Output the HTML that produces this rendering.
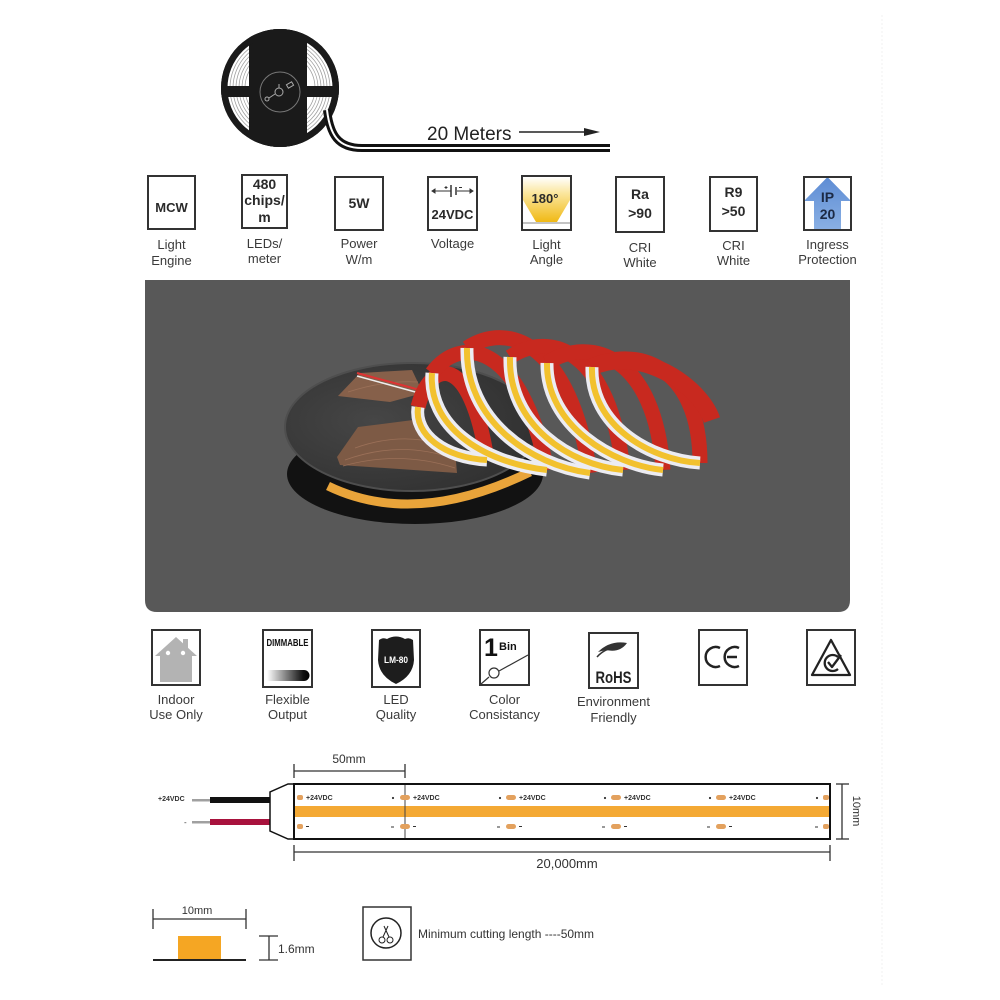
<!DOCTYPE html>
<html><head><meta charset="utf-8"><style>
html,body{margin:0;padding:0;background:#fff;}
svg{display:block;}
text{font-family:"Liberation Sans",sans-serif;}
</style></head><body>
<svg width="1000" height="1000" viewBox="0 0 1000 1000" xmlns="http://www.w3.org/2000/svg">
<defs>
 <clipPath id="reelclip"><circle cx="280" cy="88" r="59"/></clipPath>
 <linearGradient id="g180" x1="0" y1="0" x2="0" y2="1"><stop offset="0" stop-color="#fff"/><stop offset="0.35" stop-color="#fbe7a0"/><stop offset="1" stop-color="#f0b915"/></linearGradient>
 <linearGradient id="gdim" x1="0" y1="0" x2="1" y2="0"><stop offset="0" stop-color="#fff"/><stop offset="0.85" stop-color="#111"/><stop offset="1" stop-color="#000"/></linearGradient>
 <linearGradient id="gip" x1="0" y1="0" x2="0" y2="1"><stop offset="0" stop-color="#5d8cd4"/><stop offset="1" stop-color="#8ab0e4"/></linearGradient>
 <radialGradient id="greel" cx="0.35" cy="0.45" r="0.75"><stop offset="0" stop-color="#464646"/><stop offset="1" stop-color="#2e2e2e"/></radialGradient>
</defs>

<line x1="882" y1="15" x2="882" y2="985" stroke="#f0f0f0" stroke-width="1" stroke-dasharray="2 2"/>

<!-- ===== TOP REEL ===== -->
<g clip-path="url(#reelclip)">
 <rect x="218" y="26" width="124" height="124" fill="#1a1a1a"/>
 <circle cx="280" cy="88" r="53" fill="#fff"/>
 <g fill="none" stroke="#a0a0a0" stroke-width="0.8">
  <circle cx="280" cy="88" r="50"/><circle cx="280" cy="88" r="47"/><circle cx="280" cy="88" r="44"/>
  <circle cx="280" cy="88" r="41"/><circle cx="280" cy="88" r="38"/><circle cx="280" cy="88" r="35"/>
 </g>
 <rect x="249" y="26" width="58" height="124" fill="#1a1a1a"/>
 <rect x="218" y="86" width="124" height="11" fill="#1a1a1a"/>
 <circle cx="280" cy="88" r="56" fill="none" stroke="#1a1a1a" stroke-width="7"/>
</g>
<circle cx="280" cy="92" r="20" fill="none" stroke="#777" stroke-width="1"/>
<g stroke="#aaa" stroke-width="1" fill="none">
 <circle cx="279" cy="92" r="4"/>
 <line x1="275" y1="94" x2="269" y2="98"/><circle cx="267" cy="99" r="2"/>
 <line x1="279" y1="88" x2="279" y2="84"/>
 <rect x="287" y="83" width="6" height="4" transform="rotate(-30 290 85)"/>
</g>
<path d="M327 110 C330 135 338 148 362 148 L610 148" fill="none" stroke="#111" stroke-width="8"/>
<path d="M327 110 C330 135 338 148 362 148 L610 148" fill="none" stroke="#fff" stroke-width="2"/>
<text x="427" y="140" font-size="19" fill="#222">20 Meters</text>
<line x1="519" y1="132" x2="588" y2="132" stroke="#222" stroke-width="1.5"/>
<polygon points="584,128 600,132 584,136" fill="#222"/>

<!-- ===== TOP ICON ROW ===== -->
<g fill="none" stroke="#333" stroke-width="2">
 <rect x="148" y="176" width="47" height="53"/>
 <rect x="242" y="175" width="45" height="53"/>
 <rect x="335" y="177" width="48" height="53"/>
 <rect x="428" y="177" width="49" height="53"/>
</g>
<path d="M523 177 L570 177 L570 200 L557 222 L536 222 L523 200 Z" fill="url(#g180)"/>
<line x1="523" y1="223" x2="570" y2="223" stroke="#888" stroke-width="1"/>
<polygon points="827.5,177 851,201 841,201 841,230 814,230 814,201 804,201" fill="url(#gip)"/>
<g fill="none" stroke="#333" stroke-width="2">
 <rect x="522" y="176" width="49" height="54"/>
 <rect x="616" y="177" width="48" height="55"/>
 <rect x="710" y="177" width="47" height="54"/>
 <rect x="804" y="177" width="47" height="53"/>
</g>
<g font-weight="bold" fill="#2a2a2a" text-anchor="middle" font-size="13">
 <text x="171.5" y="212">MCW</text>
 <text x="264.5" y="189" font-size="14">480</text>
 <text x="264.5" y="205" font-size="14">chips/</text>
 <text x="264.5" y="222" font-size="14">m</text>
 <text x="359" y="208" font-size="14">5W</text>
 <text x="452.5" y="219" font-size="13">24VDC</text>
 <text x="545" y="203" font-size="13">180°</text>
 <text x="640" y="199" font-size="14">Ra</text>
 <text x="640" y="218" font-size="14">&gt;90</text>
 <text x="733.5" y="197" font-size="14">R9</text>
 <text x="733.5" y="216" font-size="14">&gt;50</text>
 <text x="827.5" y="202" font-size="14" fill="#1c2a45">IP</text>
 <text x="827.5" y="219" font-size="14" fill="#1c2a45">20</text>
</g>
<g stroke="#333" stroke-width="1" fill="#333">
 <line x1="432" y1="191" x2="451" y2="191"/><line x1="457" y1="191" x2="473" y2="191"/>
 <line x1="451" y1="185" x2="451" y2="197" stroke-width="1.5"/>
 <line x1="456" y1="187" x2="456" y2="195" stroke-width="1.5"/>
 <polygon points="432,191 435,189 435,193"/><polygon points="473,191 470,189 470,193"/>
 <line x1="446" y1="186" x2="446" y2="189"/><line x1="444.5" y1="187.5" x2="447.5" y2="187.5"/>
 <line x1="459" y1="187.5" x2="462" y2="187.5"/>
</g>
<g fill="#3a3a3a" font-size="13" text-anchor="middle">
 <text x="171.5" y="249">Light</text><text x="171.5" y="265">Engine</text>
 <text x="264.5" y="248">LEDs/</text><text x="264.5" y="263">meter</text>
 <text x="359" y="248">Power</text><text x="359" y="264">W/m</text>
 <text x="452.5" y="248">Voltage</text>
 <text x="546.5" y="249">Light</text><text x="546.5" y="264">Angle</text>
 <text x="640" y="252">CRI</text><text x="640" y="267">White</text>
 <text x="733.5" y="250">CRI</text><text x="733.5" y="265">White</text>
 <text x="827.5" y="249">Ingress</text><text x="827.5" y="264">Protection</text>
</g>

<!-- ===== PHOTO PANEL ===== -->
<path d="M145 280 H850 V600 Q850 612 838 612 H157 Q145 612 145 600 Z" fill="#585858"/>
<ellipse cx="415" cy="474" rx="128" ry="50" fill="#121212"/>
<path d="M328 486 Q415 528 530 472" fill="none" stroke="#e9a43a" stroke-width="9"/>
<ellipse cx="412" cy="427" rx="127" ry="64" fill="url(#greel)" stroke="#4e4e4e" stroke-width="2"/>
<polygon points="360,373 412,370 423,393 390,402 338,396" fill="#86604a"/>
<polygon points="358,427 413,420 455,450 457,473 340,465 337,457" fill="#7d5a45"/>
<g stroke="#9b7058" stroke-width="0.8" fill="none">
 <path d="M345 460 Q400 440 452 458"/><path d="M343 466 Q400 450 455 468"/><path d="M355 448 Q400 432 440 444"/>
 <path d="M348 392 Q385 380 418 382"/>
</g>
<path d="M357 373 L420 390" stroke="#d33" stroke-width="2"/>
<path d="M357 376 L419 393" stroke="#eee" stroke-width="1.5"/>
<!-- loop backs (red) -->
<g fill="none" stroke="#c8291f" stroke-width="15" stroke-linecap="butt">
 <path d="M418 407 C430 360 470 350 487 460"/>
 <path d="M432 373 C460 335 520 340 547 470"/>
 <path d="M467 348 C510 320 570 345 590 473"/>
 <path d="M510 357 C550 330 610 350 623 470"/>
 <path d="M547 363 C590 335 655 355 663 470"/>
 <path d="M592 367 C635 345 700 365 700 463"/>
 <path d="M592 367 C640 345 700 385 712 420" stroke-width="17"/>
</g>
<!-- loop fronts -->
<g fill="none" stroke="#ececf2" stroke-width="13">
 <path d="M418 407 C414 435 445 458 487 460"/>
 <path d="M432 373 C428 425 480 462 547 470"/>
 <path d="M467 348 C465 420 530 465 590 473"/>
 <path d="M510 357 C508 425 570 465 623 470"/>
 <path d="M547 363 C546 425 612 465 663 470"/>
 <path d="M592 367 C590 425 650 460 700 463"/>
</g>
<g fill="none" stroke="#f2c12e" stroke-width="6">
 <path d="M418 407 C414 435 445 458 487 460"/>
 <path d="M432 373 C428 425 480 462 547 470"/>
 <path d="M467 348 C465 420 530 465 590 473"/>
 <path d="M510 357 C508 425 570 465 623 470"/>
 <path d="M547 363 C546 425 612 465 663 470"/>
 <path d="M592 367 C590 425 650 460 700 463"/>
</g>

<!-- ===== BOTTOM ICON ROW ===== -->
<g fill="none" stroke="#333" stroke-width="2">
 <rect x="152" y="630" width="48" height="55"/>
 <rect x="263" y="630" width="49" height="57"/>
 <rect x="372" y="630" width="48" height="57"/>
 <rect x="480" y="630" width="49" height="55"/>
 <rect x="589" y="633" width="49" height="55"/>
 <rect x="699" y="630" width="48" height="55"/>
 <rect x="807" y="630" width="48" height="55"/>
</g>
<g fill="#b3b3b3">
 <polygon points="176,637 197,656 155,656"/>
 <rect x="160" y="655" width="32" height="27"/>
 <rect x="183" y="639" width="5" height="10"/>
</g>
<circle cx="168" cy="653" r="2.2" fill="#fff"/><circle cx="183" cy="653" r="2.2" fill="#fff"/>
<text x="287.5" y="646" font-size="10" font-weight="bold" fill="#111" text-anchor="middle" textLength="42" lengthAdjust="spacingAndGlyphs">DIMMABLE</text>
<path d="M267 670 H304 A5.5 5.5 0 0 1 304 681 H267 Z" fill="url(#gdim)"/>
<path d="M379 640 Q383 637 387 639 Q396 634 405 639 Q409 637 413 640 L414 660 Q413 676 396 684 Q379 676 378 660 Z" fill="#1d1d1d"/>
<text x="396" y="663" font-size="9" font-weight="bold" fill="#fff" text-anchor="middle" textLength="24" lengthAdjust="spacingAndGlyphs">LM-80</text>
<text x="484" y="656" font-size="25" font-weight="bold" fill="#111">1</text>
<text x="499" y="650" font-size="11" font-weight="bold" fill="#111">Bin</text>
<g stroke="#333" stroke-width="1.2" fill="none">
 <line x1="481" y1="684" x2="489" y2="677"/>
 <circle cx="494" cy="673" r="5"/>
 <line x1="499" y1="671" x2="528" y2="655"/>
</g>
<path d="M598 652 Q610 640 627 643 Q620 653 606 650 Q602 651 598 652 Z" fill="#333"/>
<path d="M597 657 Q605 648 616 648" fill="none" stroke="#333" stroke-width="1.5"/>
<text x="613.5" y="683" font-size="17" font-weight="bold" fill="#222" text-anchor="middle" textLength="36" lengthAdjust="spacingAndGlyphs">RoHS</text>
<g fill="none" stroke="#222" stroke-width="2.5">
 <path d="M720 648 A10 10 0 1 0 720 666"/>
 <path d="M739 648 A10 10 0 1 0 739 666"/>
 <line x1="727" y1="657" x2="737" y2="657"/>
</g>
<g fill="none" stroke="#222" stroke-width="2.3" stroke-linejoin="round">
 <path d="M831 640 L850 675 L812 675 Z"/>
 <path d="M838 657 A8 8 0 1 0 838 669"/>
 <path d="M828 662 L832 667 L841 655"/>
</g>
<g fill="#3a3a3a" font-size="13" text-anchor="middle">
 <text x="176" y="704">Indoor</text><text x="176" y="719">Use Only</text>
 <text x="287.5" y="704">Flexible</text><text x="287.5" y="719">Output</text>
 <text x="396" y="704">LED</text><text x="396" y="719">Quality</text>
 <text x="504.5" y="704">Color</text><text x="504.5" y="719">Consistancy</text>
 <text x="613.5" y="706">Environment</text><text x="613.5" y="722">Friendly</text>
</g>

<!-- ===== STRIP DIAGRAM ===== -->
<text x="349" y="763" font-size="12" fill="#333" text-anchor="middle">50mm</text>
<g stroke="#333" stroke-width="1.3">
 <line x1="294" y1="771" x2="405" y2="771"/>
 <line x1="294" y1="764" x2="294" y2="778"/>
 <line x1="405" y1="764" x2="405" y2="778"/>
</g>
<rect x="192" y="799" width="18" height="2.5" fill="#a0a0a0"/>
<rect x="210" y="797" width="60" height="6" fill="#111"/>
<rect x="192" y="821" width="18" height="2.5" fill="#a0a0a0"/>
<rect x="210" y="819" width="60" height="6" fill="#a8123d"/>
<text x="158" y="801" font-size="7" font-weight="bold" fill="#333">+24VDC</text>
<text x="184" y="825" font-size="8" fill="#333">-</text>
<path d="M294 784 L288 784 L270 792 L270 831 L288 839 L294 839" fill="#fff" stroke="#111" stroke-width="1.5"/>
<rect x="294" y="784" width="536" height="55" fill="#fff" stroke="#111" stroke-width="2"/>
<rect x="295" y="806" width="534" height="11" fill="#f4a934"/>
<line x1="405" y1="785" x2="405" y2="838" stroke="#444" stroke-width="1"/>
<g fill="#e3a15e">
 <rect x="297" y="795" width="6" height="5" rx="2"/><rect x="297" y="824" width="6" height="5" rx="2"/>
 <rect x="400" y="795" width="10" height="5" rx="2.5"/><rect x="400" y="824" width="10" height="5" rx="2.5"/>
 <rect x="506" y="795" width="10" height="5" rx="2.5"/><rect x="506" y="824" width="10" height="5" rx="2.5"/>
 <rect x="611" y="795" width="10" height="5" rx="2.5"/><rect x="611" y="824" width="10" height="5" rx="2.5"/>
 <rect x="716" y="795" width="10" height="5" rx="2.5"/><rect x="716" y="824" width="10" height="5" rx="2.5"/>
 <rect x="823" y="795" width="6" height="5" rx="2"/><rect x="823" y="824" width="6" height="5" rx="2"/>
</g>
<g font-size="7" font-weight="bold" fill="#333">
 <text x="306" y="800">+24VDC</text>
 <text x="413" y="800">+24VDC</text>
 <text x="519" y="800">+24VDC</text>
 <text x="624" y="800">+24VDC</text>
 <text x="729" y="800">+24VDC</text>
</g>
<g fill="#333">
 <circle cx="393" cy="798" r="1.1"/><circle cx="500" cy="798" r="1.1"/><circle cx="605" cy="798" r="1.1"/><circle cx="710" cy="798" r="1.1"/><circle cx="817" cy="798" r="1.1"/>
 <rect x="306" y="826" width="3" height="1"/><rect x="413" y="826" width="3" height="1"/><rect x="519" y="826" width="3" height="1"/><rect x="624" y="826" width="3" height="1"/><rect x="729" y="826" width="3" height="1"/>
 <rect x="391" y="826.5" width="3" height="1"/><rect x="497" y="826.5" width="3" height="1"/><rect x="602" y="826.5" width="3" height="1"/><rect x="707" y="826.5" width="3" height="1"/><rect x="815" y="826.5" width="3" height="1"/>
</g>
<g stroke="#333" stroke-width="1.3">
 <line x1="294" y1="852" x2="830" y2="852"/>
 <line x1="294" y1="845" x2="294" y2="861"/>
 <line x1="830" y1="845" x2="830" y2="861"/>
</g>
<text x="567" y="868" font-size="13" fill="#333" text-anchor="middle">20,000mm</text>
<g stroke="#333" stroke-width="1.3">
 <line x1="842" y1="784" x2="842" y2="839"/>
 <line x1="836" y1="784" x2="849" y2="784"/>
 <line x1="836" y1="839" x2="849" y2="839"/>
</g>
<text transform="translate(853,811) rotate(90)" font-size="11" fill="#333" text-anchor="middle">10mm</text>

<!-- ===== BOTTOM ===== -->
<text x="197" y="914" font-size="11" fill="#333" text-anchor="middle">10mm</text>
<g stroke="#333" stroke-width="1.3">
 <line x1="153" y1="919" x2="246" y2="919"/>
 <line x1="153" y1="909" x2="153" y2="929"/>
 <line x1="246" y1="909" x2="246" y2="929"/>
</g>
<rect x="178" y="936" width="43" height="23" fill="#f5a623"/>
<line x1="153" y1="960" x2="246" y2="960" stroke="#222" stroke-width="2"/>
<g stroke="#333" stroke-width="1.3">
 <line x1="259" y1="936" x2="278" y2="936"/>
 <line x1="259" y1="960" x2="278" y2="960"/>
 <line x1="269" y1="936" x2="269" y2="960"/>
</g>
<text x="278" y="953" font-size="12" fill="#333">1.6mm</text>
<rect x="363" y="907" width="48" height="53" fill="none" stroke="#333" stroke-width="1.5"/>
<circle cx="386" cy="933" r="15" fill="none" stroke="#222" stroke-width="1.5"/>
<g stroke="#222" stroke-width="1" fill="none">
 <circle cx="382" cy="940" r="3"/><circle cx="390" cy="940" r="3"/>
 <line x1="383" y1="937" x2="388" y2="926"/><line x1="389" y1="937" x2="384" y2="926"/>
</g>
<text x="418" y="938" font-size="12" fill="#333">Minimum cutting length ----50mm</text>
</svg>
</body></html>
